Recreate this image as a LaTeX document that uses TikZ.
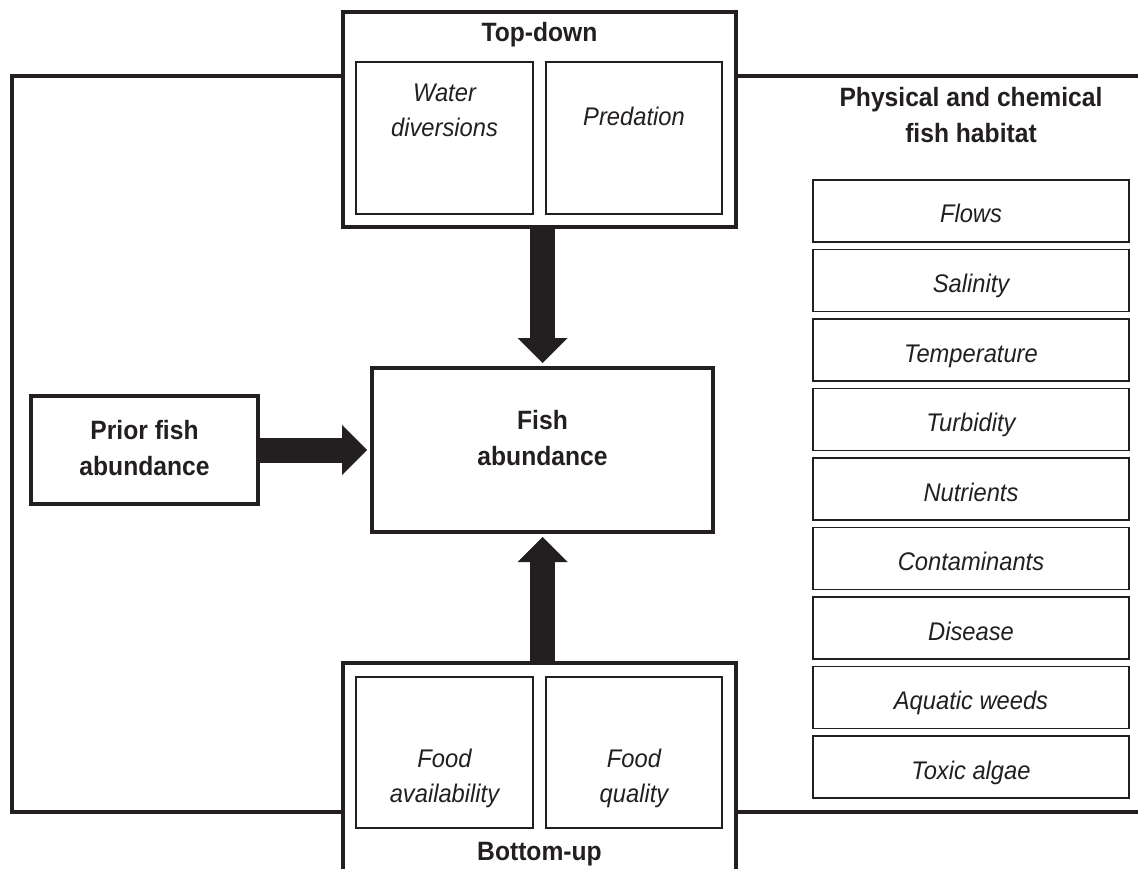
\documentclass[tikz,border=0pt]{standalone}
\usepackage{fontspec}
\setmainfont[FakeStretch=0.93]{Liberation Sans}
\usetikzlibrary{arrows.meta}
\definecolor{ink}{RGB}{35,31,32}

\begin{document}
\begin{tikzpicture}[x=1pt,y=-1pt,
  thickbox/.style={draw=ink, line width=3.5pt, inner sep=0pt, outer sep=0pt},
  thinbox/.style={draw=ink, line width=1.2pt, inner sep=0pt, outer sep=0pt},
  habbox/.style={draw=ink, line width=1.4pt, inner sep=0pt, outer sep=0pt,
    minimum width=316pt, minimum height=62pt},
  frameline/.style={draw=ink, line width=3.5pt},
  boldtxt/.style={font=\fontsize{26.5}{36}\selectfont\bfseries, text=ink,
    align=center, inner sep=0pt},
  ittxt/.style={font=\fontsize{25.5}{35}\selectfont\itshape, text=ink,
    align=center, inner sep=0pt},
  blockarrow/.style={draw=ink, line width=25pt,
    -{Triangle[width=50pt,length=25pt,line width=0pt]}, shorten >=5pt}
]
\useasboundingbox (0,0) rectangle (1138,869);
\clip (0,0) rectangle (1138,869);

% main boxes
\node[thickbox, minimum width=393pt, minimum height=215pt] (td) at (539.5,119.5) {};
\node[thickbox, minimum width=393pt, minimum height=250pt] (bu) at (539.5,788) {};
\node[thickbox, minimum width=341pt, minimum height=164pt] (fish) at (542.5,450) {};
\node[thickbox, minimum width=227pt, minimum height=108pt] (prior) at (144.5,450) {};

% sub-factor boxes
\node[thinbox, minimum width=177pt, minimum height=152pt] (wd) at (444.5,138) {};
\node[thinbox, minimum width=176pt, minimum height=152pt] (pred) at (634,138) {};
\node[thinbox, minimum width=177pt, minimum height=151pt] (fa) at (444.5,752.5) {};
\node[thinbox, minimum width=176pt, minimum height=151pt] (fq) at (634,752.5) {};

% feedback frame
\coordinate (fl1) at (12,76);
\coordinate (fl2) at (12,812);
\coordinate (fr1) at (1140,76);
\coordinate (fr2) at (1140,812);
\draw[frameline] (td.west |- fl1) -- (fl1) -- (fl2) -- (bu.west |- fl2);
\draw[frameline] (td.east |- fr1) -- (fr1);
\draw[frameline] (bu.east |- fr2) -- (fr2);

% block arrows
\draw[blockarrow] (fish.north |- td.south) -- (fish.north);
\draw[blockarrow] (fish.south |- bu.north) -- (fish.south);
\draw[blockarrow] (prior.east) -- (fish.west);

% texts
\node[boldtxt, anchor=base] (tdt) at (539.5,42) {Top-down};
\node[boldtxt, anchor=base] (but) at (539.5,860) {Bottom-up};
\node[ittxt] (wdt) at (444.5,110) {Water\\diversions};
\node[ittxt, anchor=base] (predt) at (634,126) {Predation};
\node[ittxt] (fat) at (444.5,778) {Food\\availability};
\node[ittxt] (fqt) at (634,778) {Food\\quality};
\node[boldtxt] (fisht) at (542.5,438.5) {Fish\\abundance};
\node[boldtxt] (priort) at (144.5,448) {Prior fish\\abundance};
\node[boldtxt] (habt) at (971,115.5) {Physical and chemical\\fish habitat};

% habitat factors
\foreach \lbl [count=\i from 0] in {Flows,Salinity,Temperature,Turbidity,Nutrients,Contaminants,Disease,Aquatic weeds,Toxic algae}{
  \node[habbox] (h\i) at (971,{211+69.5*\i}) {};
  \node[ittxt, anchor=base] (ht\i) at (971,{223+69.5*\i}) {\lbl};
}
\end{tikzpicture}
\end{document}
